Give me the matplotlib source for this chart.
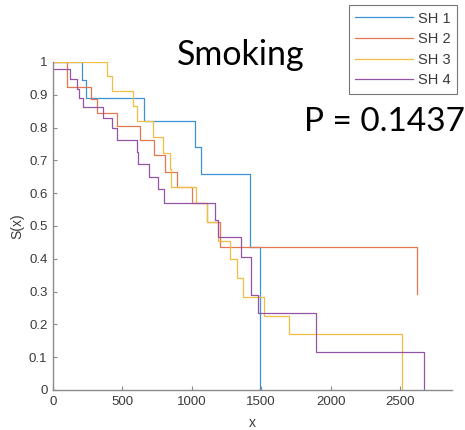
import matplotlib
matplotlib.use('Agg')
import matplotlib.pyplot as plt

# Kaplan-Meier style survival curves
sh1_t = [0, 207, 238, 658, 1023, 1069, 1422, 1494]
sh1_s = [1, 0.945, 0.891, 0.821, 0.742, 0.659, 0.437, 0]

sh2_t = [0, 98, 272, 314, 459, 627, 730, 807, 896, 999, 1107, 1203, 2620]
sh2_s = [1, 0.925, 0.887, 0.846, 0.805, 0.761, 0.715, 0.666, 0.62, 0.569, 0.511, 0.437, 0.292]

sh3_t = [0, 386, 423, 579, 608, 723, 795, 843, 850, 1030, 1107, 1190, 1275, 1323, 1371, 1523, 1700, 2514]
sh3_s = [1, 0.957, 0.912, 0.866, 0.82, 0.77, 0.724, 0.673, 0.62, 0.569, 0.511, 0.455, 0.398, 0.34, 0.284, 0.226, 0.17, 0]

sh4_t = [0, 122, 175, 185, 218, 362, 423, 463, 603, 610, 694, 759, 800, 1167, 1190, 1354, 1427, 1479, 1892, 2675]
sh4_s = [0.978, 0.948, 0.918, 0.889, 0.862, 0.830, 0.798, 0.762, 0.727, 0.688, 0.65, 0.612, 0.569, 0.518, 0.467, 0.406, 0.29, 0.234, 0.115, 0]

labels = ['SH 1', 'SH 2', 'SH 3', 'SH 4']
colors = ['#3d92d4', '#e5774f', '#f0bd45', '#9453a6']
x_ticks = [0, 500, 1000, 1500, 2000, 2500]
y_ticks = [0, 0.1, 0.2, 0.3, 0.4, 0.5, 0.6, 0.7, 0.8, 0.9, 1]
y_tick_labels = ['0', '0.1', '0.2', '0.3', '0.4', '0.5', '0.6', '0.7', '0.8', '0.9', '1']

plt.rcParams['font.family'] = ['Liberation Sans', 'DejaVu Sans']

fig = plt.figure(figsize=(4.65, 4.30), dpi=100)
ax = fig.add_axes([53 / 465, 1 - 390 / 430, (452 - 53) / 465, 328 / 430])

series = [(sh1_t, sh1_s), (sh2_t, sh2_s), (sh3_t, sh3_s), (sh4_t, sh4_s)]
handles = []
for (t, s), lab, col in zip(series, labels, colors):
    h, = ax.step(t, s, where='post', color=col, lw=0.9, label=lab)
    handles.append(h)

ax.set_xlim(0, 2875)
ax.set_ylim(0, 1)
ax.set_xticks(x_ticks)
ax.set_yticks(y_ticks)
ax.set_yticklabels(y_tick_labels)
ax.tick_params(direction='in', length=3, width=0.8, colors='#8a8a8a',
               labelcolor='#3a3a3a', labelsize=9.5, pad=4)
for side in ['top', 'right']:
    ax.spines[side].set_visible(False)
for side in ['left', 'bottom']:
    ax.spines[side].set_color('#8a8a8a')
    ax.spines[side].set_linewidth(1.0)
ax.set_xlabel('x', fontsize=10, color='#3a3a3a', labelpad=6)
ax.set_ylabel('S(x)', fontsize=10, color='#3a3a3a', labelpad=3)

fig.text(241 / 465, 1 - 55 / 430, 'Smoking', fontsize=24.5, family='Lato',
         ha='center', va='center', color='black')
fig.text(384 / 465, 1 - 122 / 430, 'P = 0.1437', fontsize=24, family='Lato',
         ha='center', va='center', color='black')

leg = fig.legend(handles=handles, loc='upper right',
                 bbox_to_anchor=(457 / 465, 1 - 5 / 430), fontsize=10.5,
                 frameon=True, fancybox=False, handlelength=4.0,
                 labelspacing=0.45, borderpad=0.45, handletextpad=0.3,
                 borderaxespad=0)
leg.get_frame().set_edgecolor('#555555')
leg.get_frame().set_linewidth(0.8)
for txt in leg.get_texts():
    txt.set_color('#3a3a3a')

fig.savefig('out.png', dpi=100)
